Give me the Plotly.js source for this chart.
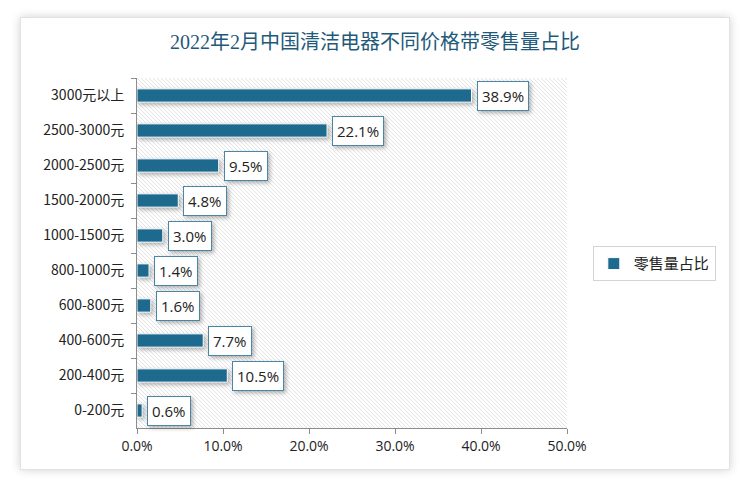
<!DOCTYPE html>
<html>
<head>
<meta charset="utf-8">
<script src="https://cdn.plot.ly/plotly-3.0.1.min.js"></script>
<style>
  html, body { margin: 0; padding: 0; background: #ffffff; }
  #card { position: absolute; left: 20px; top: 17px; width: 708px; height: 451px;
          background: #fff; border: 1px solid #e2e2e2; box-shadow: 0 0 9px rgba(0,0,0,0.18); }
  #chart { position: absolute; left: 0; top: 0; width: 750px; height: 488px; }
  .annotation-text-g rect { filter: drop-shadow(2px 2px 2px rgba(0,0,0,0.3)); }
  .trace.bars .point path { filter: drop-shadow(2px 2px 2px rgba(0,0,0,0.3)); }
</style>
</head>
<body>
<div id="card"></div>
<div id="chart"></div>
<script>
const categories = ["3000元以上", "2500-3000元", "2000-2500元", "1500-2000元", "1000-1500元",
                    "800-1000元", "600-800元", "400-600元", "200-400元", "0-200元"];
const shareValues = [0.389, 0.221, 0.095, 0.048, 0.030, 0.014, 0.016, 0.077, 0.105, 0.006];
const seriesName = "零售量占比";
const chartTitle = "2022年2月中国清洁电器不同价格带零售量占比";
const xTickValues = [0, 0.1, 0.2, 0.3, 0.4, 0.5];

const barColor = "#1d6a8e";
const cjk = "'Noto Sans CJK SC', 'Open Sans', sans-serif";
const num = "'Open Sans', 'Noto Sans CJK SC', sans-serif";

const hatchSvg = '<svg xmlns="http://www.w3.org/2000/svg" width="430" height="350">' +
  '<defs><pattern id="p" width="4" height="4" patternUnits="userSpaceOnUse">' +
  '<path d="M-1,-1 L5,5 M-1,3 L1,5 M3,-1 L5,1" stroke="#e0e0e0" stroke-width="0.9"/></pattern></defs>' +
  '<rect width="430" height="350" fill="#ffffff"/><rect width="430" height="350" fill="url(#p)"/></svg>';

const trace = {
  type: "bar",
  orientation: "h",
  name: seriesName,
  x: shareValues,
  y: categories,
  width: 0.38,
  marker: { color: barColor, line: { color: "#ffffff", width: 1 } },
  hoverinfo: "x+y",
  showlegend: true
};

const annotations = shareValues.map((v, i) => ({
  x: v, y: categories[i], xref: "x", yref: "y",
  text: (v * 100).toFixed(1) + "%",
  showarrow: false, xanchor: "left", yanchor: "middle", xshift: 5,
  bgcolor: "#ffffff", bordercolor: "#4a86a6", borderwidth: 1, borderpad: 4,
  font: { family: num, size: 15, color: "#222222" }
}));

const layout = {
  width: 750, height: 488,
  paper_bgcolor: "rgba(0,0,0,0)",
  plot_bgcolor: "rgba(0,0,0,0)",
  margin: { l: 137, r: 183, t: 78, b: 60 },
  title: { text: chartTitle, x: 0.5, xref: "container", xanchor: "center", y: 0.913, yref: "container",
           yanchor: "middle",
           font: { family: "'Liberation Serif', 'Noto Sans CJK SC', serif", size: 20, color: "#1f5a7a" } },
  xaxis: {
    range: [0, 0.5], tickvals: xTickValues, tickformat: ".1%",
    showgrid: false, zeroline: false, showline: true, linecolor: "#8c8c8c", linewidth: 1,
    ticks: "outside", ticklen: 5, tickcolor: "#8c8c8c",
    tickfont: { family: num, size: 14, color: "#222222" }, fixedrange: true
  },
  yaxis: {
    type: "category", autorange: "reversed",
    showgrid: false, zeroline: false, showline: true, linecolor: "#8c8c8c", linewidth: 1,
    ticks: "outside", ticklen: 5, tickcolor: "#8c8c8c", tickson: "boundaries",
    ticklabelstandoff: 9,
    tickfont: { family: cjk, size: 14, color: "#222222" }, fixedrange: true
  },
  legend: {
    x: 1.06, y: 0.469, xanchor: "left", yanchor: "middle",
    bordercolor: "#d4d4d4", borderwidth: 1, bgcolor: "#ffffff", itemwidth: 30,
    font: { family: cjk, size: 15, color: "#222222" }
  },
  images: [{
    source: "data:image/svg+xml;charset=utf-8," + encodeURIComponent(hatchSvg),
    xref: "paper", yref: "paper", x: 0, y: 1, sizex: 1, sizey: 1,
    sizing: "stretch", layer: "below", xanchor: "left", yanchor: "top"
  }],
  annotations: annotations,
  bargap: 0.62
};

Plotly.newPlot("chart", [trace], layout, { displayModeBar: false, staticPlot: true });
</script>
</body>
</html>
